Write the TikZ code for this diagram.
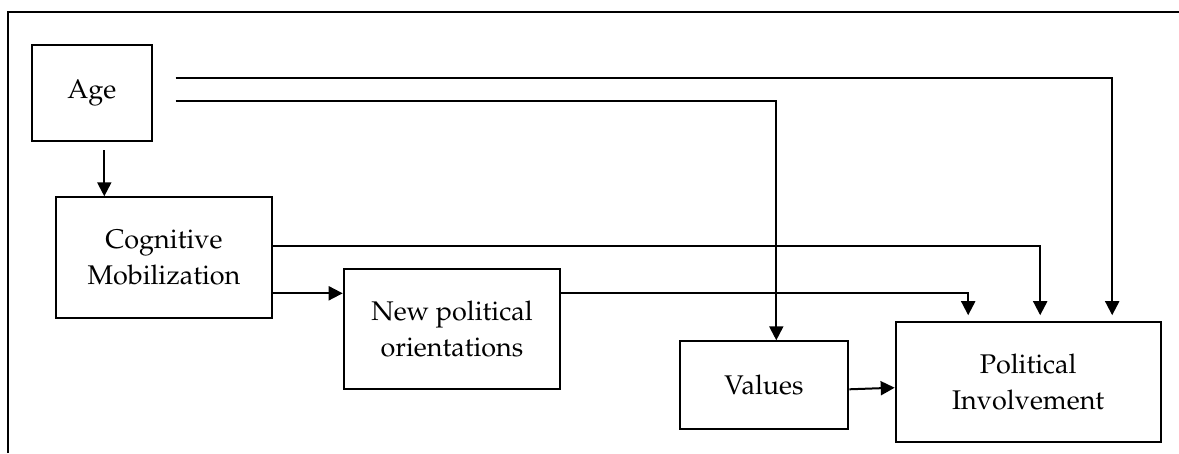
\documentclass[tikz,border=0pt]{standalone}
\usepackage[T1]{fontenc}
\usepackage{mathpazo}
\usepackage{tikz}
\usetikzlibrary{arrows.meta}
\usetikzlibrary{positioning}
\tikzstyle{factor}=[draw=black, line width=2pt, inner sep=0pt, align=center,
    font=\fontsize{27}{36}\selectfont]
\tikzstyle{path_arrow}=[line width=2pt, -{Triangle[length=14pt,width=14pt]}]
\tikzstyle{path_line}=[line width=2pt]

\begin{document}
\begin{tikzpicture}[x=1pt, y=-1pt]
\useasboundingbox (0,0) rectangle (1179,453);
\draw[path_line] (8,453) -- (8,11.5) -- (1179,11.5);
\node[factor, minimum width=120.5pt, minimum height=96pt] (age) at (91.8,93){Age};
\node[factor, minimum width=216.6pt, minimum height=120.4pt] (cogmob) at (164,257.5){Cognitive\\Mobilization};
\node[factor, minimum width=216.6pt, minimum height=120pt] (neworient) at (452,329.3){New political\\orientations};
\node[factor, minimum width=168.6pt, minimum height=88pt] (values) at (764,385.3){Values};
\node[factor, minimum width=265pt, minimum height=120pt] (polinv) at (1028.2,381.7){Political\\Involvement};
\coordinate (agetop) at (175.5,77.5);
\coordinate (agelow) at (175.5,101);
\coordinate (agedown) at ([xshift=12.5pt,yshift=-8pt]age.south);
\coordinate (cogup) at ([yshift=11.8pt]cogmob.east);
\coordinate (coglow) at ([yshift=-35.8pt]cogmob.east);
\coordinate (neworout) at ([yshift=36pt]neworient.east);
\draw[path_arrow](agedown) -- (agedown |- cogmob.north);
\draw[path_arrow](agetop) -| ([xshift=84pt,yshift=5.5pt]polinv.north);
\draw[path_arrow](agelow) -| ([xshift=12.3pt]values.north);
\draw[path_arrow](cogup) -| ([xshift=12pt,yshift=5.5pt]polinv.north);
\draw[path_arrow](coglow) -- (neworient.west |- coglow);
\draw[path_arrow](neworout) -| ([xshift=-60pt,yshift=5.5pt]polinv.north);
\draw[path_arrow]([yshift=-4pt]values.east) -- ([yshift=-6pt]polinv.west);
\end{tikzpicture}
\end{document}
